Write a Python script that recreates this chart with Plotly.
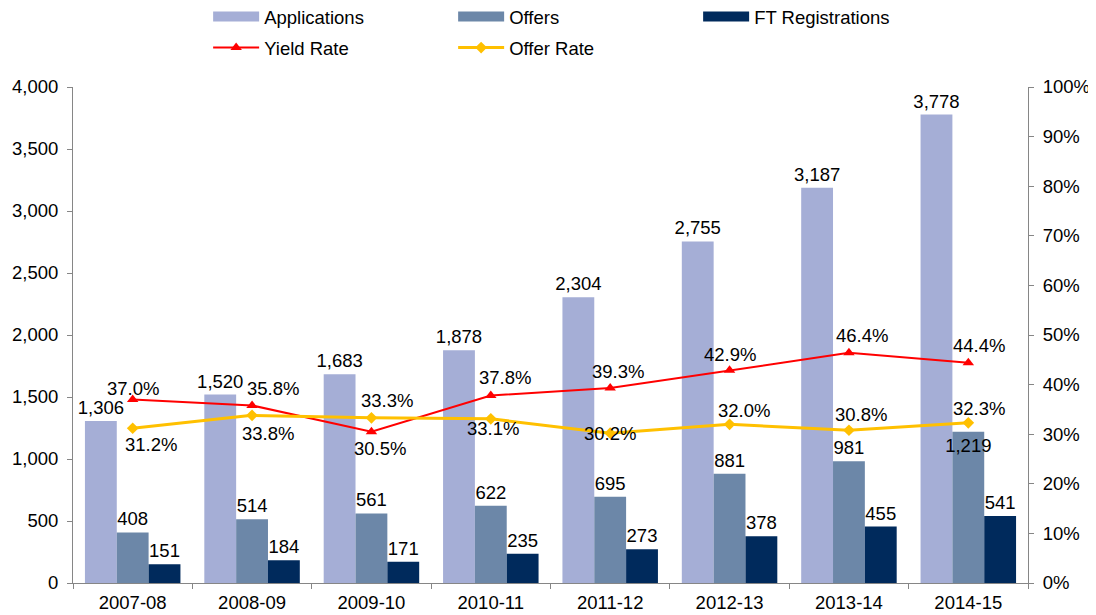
import plotly.graph_objects as go

years = ["2007-08", "2008-09", "2009-10", "2010-11", "2011-12", "2012-13", "2013-14", "2014-15"]
applications = [1306, 1520, 1683, 1878, 2304, 2755, 3187, 3778]
offers = [408, 514, 561, 622, 695, 881, 981, 1219]
ft_registrations = [151, 184, 171, 235, 273, 378, 455, 541]
yield_rate = [37.0, 35.8, 30.5, 37.8, 39.3, 42.9, 46.4, 44.4]
offer_rate = [31.2, 33.8, 33.3, 33.1, 30.2, 32.0, 30.8, 32.3]

# label offsets (pixels) for line labels
yield_dx = [0, 21, 9, 14, 8, 0, 13, 11]
yield_dy = [11, 17, -17, 18, 17, 16, 17, 17]
offer_dx = [18, 16, 16, 2, 0, 14, 12, 11]
offer_dy = [-16, -18, 17, -10, 0, 14, 16, 14]

FONT = "Liberation Sans, Arial, sans-serif"
FS = 18.5
C_APP = "#A5AED6"
C_OFF = "#6C87A8"
C_FT = "#002A5C"
C_YIELD = "#FF0000"
C_OR = "#FFC000"

# the page body adds an 8px offset, so the figure is drawn 8px smaller
W, H = 1088, 607

pos_default = ["outside"] * len(years)
pos_offers = ["outside"] * (len(years) - 1) + ["inside"]

fig = go.Figure()
for name, vals, col, pos in [("Applications", applications, C_APP, pos_default),
                             ("Offers", offers, C_OFF, pos_offers),
                             ("FT Registrations", ft_registrations, C_FT, pos_default)]:
    fig.add_trace(go.Bar(
        x=years, y=vals, name=name, marker=dict(color=col, line=dict(width=0)),
        text=vals, texttemplate="%{y:,}", textposition=pos, insidetextanchor="end",
        textangle=0, constraintext="none", cliponaxis=False,
        textfont=dict(family=FONT, size=FS, color="#000000"),
        showlegend=False,
    ))
    # legend entry shaped like a flat rectangle
    fig.add_trace(go.Scatter(
        x=[None], y=[None], mode="lines", name=name,
        line=dict(color=col, width=10), legend="legend",
    ))

fig.add_trace(go.Scatter(
    x=years, y=yield_rate, name="Yield Rate", yaxis="y2", mode="lines+markers",
    line=dict(color=C_YIELD, width=2), marker=dict(symbol="triangle-up", size=10, color=C_YIELD),
    legend="legend2", cliponaxis=False,
))
fig.add_trace(go.Scatter(
    x=years, y=offer_rate, name="Offer Rate", yaxis="y2", mode="lines+markers",
    line=dict(color=C_OR, width=3), marker=dict(symbol="diamond", size=9, color=C_OR),
    legend="legend2", cliponaxis=False,
))

annotations = []
for vals, dxs, dys in [(yield_rate, yield_dx, yield_dy), (offer_rate, offer_dx, offer_dy)]:
    for yr, v, dx, dy in zip(years, vals, dxs, dys):
        annotations.append(dict(
            x=yr, y=v, xref="x", yref="y2", text=f"{v:.1f}%", showarrow=False,
            xshift=dx, yshift=dy, font=dict(family=FONT, size=FS, color="#000000"),
        ))

axis_common = dict(
    showline=True, linecolor="#868686", linewidth=1, ticks="outside",
    tickcolor="#868686", ticklen=5, showgrid=False, zeroline=False, automargin=False,
    tickfont=dict(family=FONT, size=FS, color="#000000"),
)

legend_common = dict(
    orientation="h", x=0.1415, xanchor="left", yanchor="middle", yref="container",
    entrywidth=184, entrywidthmode="pixels", itemwidth=46,
    font=dict(family=FONT, size=FS), bgcolor="rgba(0,0,0,0)",
)

fig.update_layout(
    width=W, height=H,
    margin=dict(l=65, r=68, t=79, b=32, autoexpand=False),
    plot_bgcolor="white", paper_bgcolor="white",
    barmode="group", bargap=0.2, bargroupgap=0,
    font=dict(family=FONT, size=FS, color="#000000"),
    xaxis=dict(**axis_common, type="category", tickson="boundaries", ticklabelstandoff=3),
    yaxis=dict(**axis_common, range=[0, 4000], dtick=500, tickformat=",", ticklabelstandoff=5),
    yaxis2=dict(**axis_common, range=[0, 100], dtick=10, ticksuffix="%",
                overlaying="y", side="right", anchor="x", ticklabelstandoff=5),
    legend=dict(**legend_common, y=1 - 9 / H),
    legend2=dict(**legend_common, y=1 - 40 / H),
    annotations=annotations,
)

fig.write_html("out.html")
